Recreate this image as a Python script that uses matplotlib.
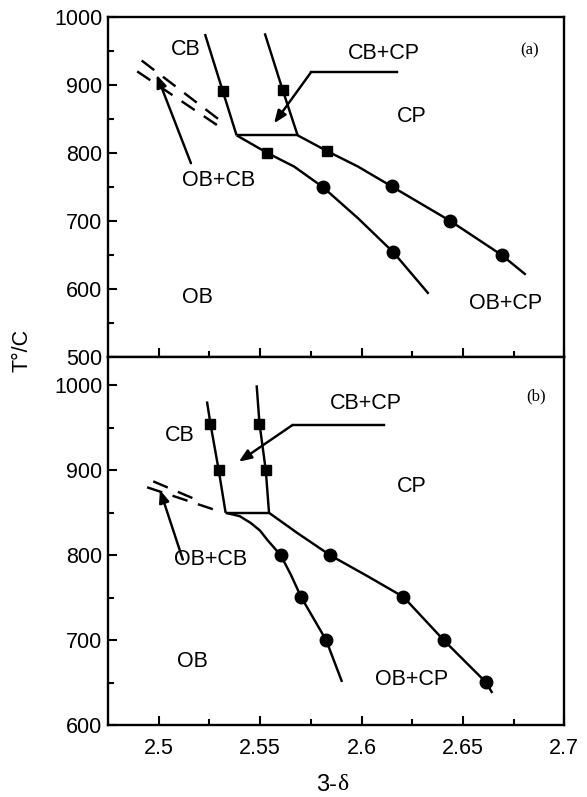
import matplotlib
matplotlib.use("Agg")
import matplotlib.pyplot as plt
from matplotlib.ticker import MultipleLocator, FixedLocator

plt.rcParams['font.family'] = ['Liberation Sans', 'DejaVu Sans']

# ---------------- data: panel (a) ----------------
a_cb_x = [2.5228, 2.5316, 2.5384]
a_cb_y = [975, 891, 826]
a_cbcp_x = [2.5523, 2.5611, 2.5685]
a_cbcp_y = [976, 893, 826]
a_tie_x = [2.5384, 2.5685]
a_tie_y = [826, 826]
a_ob_x = [2.5384, 2.5536, 2.5668, 2.5809, 2.5983, 2.6157, 2.6331]
a_ob_y = [826, 800, 780, 750, 704, 654, 593]
a_cp_x = [2.5685, 2.5829, 2.5983, 2.6148, 2.6438, 2.6691, 2.6810]
a_cp_y = [826, 803, 780, 751, 700, 650, 621]
a_sq_x = [2.5316, 2.5611, 2.5536, 2.5829]
a_sq_y = [891, 893, 800, 803]
a_ci_x = [2.5809, 2.6157, 2.6148, 2.6438, 2.6691]
a_ci_y = [750, 654, 751, 700, 650]
a_dash1_x = [2.4916, 2.5320]
a_dash1_y = [936, 844]
a_dash2_x = [2.4894, 2.5313]
a_dash2_y = [920, 836]

# ---------------- data: panel (b) ----------------
b_cb_x = [2.5238, 2.5255, 2.5296, 2.5330]
b_cb_y = [981, 955, 900, 850]
b_cbcp_x = [2.5483, 2.5497, 2.5528, 2.5544]
b_cbcp_y = [1000, 955, 900, 850]
b_tie_x = [2.5330, 2.5544]
b_tie_y = [850, 850]
b_ob_x = [2.5330, 2.5400, 2.5454, 2.5500, 2.5536, 2.5602, 2.5652, 2.5702, 2.5826, 2.5904]
b_ob_y = [850, 846, 838, 829, 818, 800, 777, 751, 700, 651]
b_cp_x = [2.5544, 2.5685, 2.5846, 2.6033, 2.6207, 2.6406, 2.6612, 2.6645]
b_cp_y = [850, 826, 800, 775, 751, 700, 651, 638]
b_sq_x = [2.5255, 2.5296, 2.5497, 2.5528]
b_sq_y = [955, 900, 955, 900]
b_ci_x = [2.5602, 2.5702, 2.5826, 2.5846, 2.6207, 2.6406, 2.6612]
b_ci_y = [800, 751, 700, 800, 751, 700, 651]
b_dash1_x = [2.4973, 2.5170]
b_dash1_y = [887, 867]
b_dash2_x = [2.4943, 2.5308]
b_dash2_y = [880, 851]

x_ticks = [2.5, 2.55, 2.6, 2.65, 2.7]
x_ticklabels = ['2.5', '2.55', '2.6', '2.65', '2.7']

fig = plt.figure(figsize=(5.87, 7.97), dpi=100)
L, W = 108 / 587, (564.3 - 108) / 587
axA = fig.add_axes([L, 1 - 357 / 797, W, (357 - 17) / 797])
axB = fig.add_axes([L, 1 - 725.3 / 797, W, (725.3 - 357) / 797])

LW = 1.75
FS = 15.5

def style(ax, ylim, yticks, show_xlabels):
    ax.set_xlim(2.475, 2.70)
    ax.set_ylim(*ylim)
    for s in ax.spines.values():
        s.set_linewidth(1.7)
    ax.set_xticks(x_ticks)
    ax.xaxis.set_minor_locator(FixedLocator([2.525, 2.575, 2.625, 2.675]))
    ax.set_yticks(yticks)
    ax.yaxis.set_minor_locator(MultipleLocator(50))
    ax.tick_params(which='both', direction='in', width=1.5, top=False, right=False)
    ax.tick_params(which='major', length=6.5)
    ax.tick_params(which='minor', length=4.5)
    ax.tick_params(axis='y', labelsize=FS, pad=4)
    ax.tick_params(axis='x', labelsize=FS, pad=9)
    if show_xlabels:
        ax.set_xticklabels(x_ticklabels)
    else:
        ax.set_xticklabels([])

style(axA, (500, 1000), [500, 600, 700, 800, 900, 1000], False)
style(axB, (600, 1033.3), [600, 700, 800, 900, 1000], True)

def draw(ax, cb, cbcp, tie, ob, cp, sq, ci, d1, d2):
    for xs, ys in (cb, cbcp, tie, ob, cp):
        ax.plot(xs, ys, color='black', lw=LW, solid_capstyle='butt',
                solid_joinstyle='round', zorder=3)
    for xs, ys in (d1, d2):
        ax.plot(xs, ys, color='black', lw=LW, dashes=(6.5, 4.5), zorder=3)
    ax.plot(sq[0], sq[1], 's', color='black', ms=7.3, ls='none', zorder=4)
    ax.plot(ci[0], ci[1], 'o', color='black', ms=9, ls='none', zorder=4)

draw(axA, (a_cb_x, a_cb_y), (a_cbcp_x, a_cbcp_y), (a_tie_x, a_tie_y),
     (a_ob_x, a_ob_y), (a_cp_x, a_cp_y), (a_sq_x, a_sq_y), (a_ci_x, a_ci_y),
     (a_dash1_x, a_dash1_y), (a_dash2_x, a_dash2_y))
draw(axB, (b_cb_x, b_cb_y), (b_cbcp_x, b_cbcp_y), (b_tie_x, b_tie_y),
     (b_ob_x, b_ob_y), (b_cp_x, b_cp_y), (b_sq_x, b_sq_y), (b_ci_x, b_ci_y),
     (b_dash1_x, b_dash1_y), (b_dash2_x, b_dash2_y))

arrow = dict(arrowstyle='-|>,head_length=0.75,head_width=0.3', color='black',
             lw=LW, shrinkA=0, shrinkB=0)

# panel (a) annotations
axA.annotate('', xy=(2.4990, 915), xytext=(2.5159, 785), arrowprops=arrow)
axA.plot([2.6173, 2.5751], [918.7, 918.7], color='black', lw=LW)
axA.annotate('', xy=(2.5569, 843.7), xytext=(2.5751, 918.7), arrowprops=arrow)
axA.text(2.5132, 951.5, 'CB', fontsize=FS, ha='center', va='center')
axA.text(2.6108, 946.6, 'CB+CP', fontsize=FS, ha='center', va='center')
axA.text(2.6249, 853.4, 'CP', fontsize=FS, ha='center', va='center')
axA.text(2.5294, 760, 'OB+CB', fontsize=FS, ha='center', va='center')
axA.text(2.5189, 587, 'OB', fontsize=FS, ha='center', va='center')
axA.text(2.6711, 579, 'OB+CP', fontsize=FS, ha='center', va='center')
axA.text(2.683, 951.5, '(a)', fontsize=12, ha='center', va='center',
         family=['Liberation Serif'])

# panel (b) annotations
axB.annotate('', xy=(2.5006, 877), xytext=(2.5119, 795), arrowprops=arrow)
axB.plot([2.6112, 2.5660], [953.3, 953.3], color='black', lw=LW)
axB.annotate('', xy=(2.5395, 910.1), xytext=(2.5660, 953.3), arrowprops=arrow)
axB.text(2.5106, 941.5, 'CB', fontsize=FS, ha='center', va='center')
axB.text(2.6022, 978.8, 'CB+CP', fontsize=FS, ha='center', va='center')
axB.text(2.6249, 880.7, 'CP', fontsize=FS, ha='center', va='center')
axB.text(2.5255, 794.5, 'OB+CB', fontsize=FS, ha='center', va='center')
axB.text(2.5164, 674.8, 'OB', fontsize=FS, ha='center', va='center')
axB.text(2.6249, 653.3, 'OB+CP', fontsize=FS, ha='center', va='center')
axB.text(2.686, 987.4, '(b)', fontsize=12, ha='center', va='center',
         family=['Liberation Serif'])

fig.text(22 / 587, 1 - 350 / 797, 'T°/C', rotation=90, fontsize=FS,
         ha='center', va='center')
fig.text(337 / 587, 1 - 785 / 797, '3-', fontsize=17, ha='right', va='center')
fig.text(337 / 587, 1 - 785 / 797, 'δ', fontsize=17, ha='left', va='center',
         family=['Liberation Serif', 'DejaVu Serif'])

fig.savefig('out.png', dpi=100)
